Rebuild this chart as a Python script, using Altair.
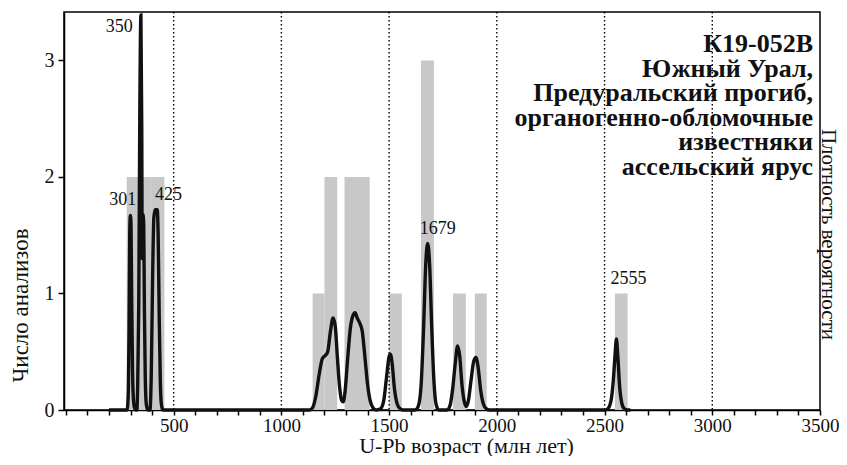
import altair as alt
import pandas as pd

# ---- data ----
# histogram bins (Ma) and counts
bin_start = [282, 340, 399, 1145, 1200, 1293, 1351, 1500, 1648, 1797, 1898, 2548]
bin_end   = [340, 399, 457, 1200, 1259, 1351, 1410, 1559, 1708, 1856, 1953, 2607]
bin_count = [2, 2, 2, 1, 2, 2, 2, 1, 3, 1, 1, 1]

# probability density curve (age Ma, density in count-axis units)
dens_age = [200, 284, 287, 290, 293, 296, 299, 302, 305, 309, 313, 318, 324,
            329, 333, 338, 343, 348, 352, 354, 357, 361, 364, 368, 373, 380,
            390, 396, 402, 408, 414, 424, 428, 433, 438, 443, 450,
            1100, 1130, 1145, 1160, 1175, 1190, 1205, 1215, 1228, 1240, 1250,
            1260, 1270, 1280, 1287, 1295, 1308, 1320, 1332, 1342, 1352, 1365,
            1375, 1388, 1400, 1412, 1425, 1440, 1460, 1475, 1488, 1500, 1506,
            1514, 1525, 1538, 1552, 1565, 1620, 1635, 1648, 1660, 1670, 1679,
            1688, 1698, 1708, 1718, 1730, 1770, 1783, 1795, 1807, 1818, 1828,
            1838, 1848, 1858, 1868, 1880, 1893, 1903, 1913, 1925, 1938, 1952,
            1965, 2500, 2515, 2530, 2540, 2548, 2555, 2562, 2570, 2580, 2592,
            2605, 2620]
dens_val = [0, 0, 0.05, 0.2, 0.7, 1.5, 1.67, 1.6, 1.0, 0.35, 0.1, 0.02, 0,
            0, 0.2, 0.9, 2.6, 3.39, 2.4, 1.3, 1.68, 1.6, 0.9, 0.3, 0.05, 0,
            0, 0.3, 1.1, 1.65, 1.72, 1.72, 1.5, 0.8, 0.25, 0.05, 0,
            0, 0, 0.02, 0.12, 0.3, 0.44, 0.47, 0.5, 0.68, 0.79, 0.72,
            0.45, 0.2, 0.08, 0.07, 0.15, 0.45, 0.7, 0.81, 0.835, 0.79, 0.74,
            0.68, 0.45, 0.22, 0.08, 0.02, 0, 0.01, 0.08, 0.28, 0.46, 0.48,
            0.4, 0.18, 0.05, 0.01, 0, 0, 0.03, 0.2, 0.7, 1.25, 1.43,
            1.25, 0.7, 0.25, 0.05, 0, 0, 0.04, 0.18, 0.4, 0.55, 0.46,
            0.22, 0.08, 0.03, 0.08, 0.25, 0.42, 0.45, 0.37, 0.17, 0.05, 0.01,
            0, 0, 0.01, 0.08, 0.24, 0.45, 0.61, 0.45, 0.2, 0.06, 0.01,
            0, 0]

# labelled peaks
peak_labels = ["301", "350", "425", "1679", "2555"]
peak_ages = [301, 350, 425, 1679, 2555]
peak_heights = [1.67, 3.39, 1.72, 1.43, 0.61]

grid_values = [500, 1000, 1500, 2000, 2500, 3000]
x_ticks = list(range(0, 3600, 100))
y_ticks = [0, 1, 2, 3]

title_lines = ["К19-052В", "Южный Урал,", "Предуральский прогиб,",
               "органогенно-обломочные\u00a0", "известняки", "ассельский ярус"]

X_DOMAIN = [-9, 3500]
Y_DOMAIN = [0, 3.416]
SERIF = "Liberation Serif"

bins = pd.DataFrame({"start": bin_start, "end": bin_end, "count": bin_count})
dens = pd.DataFrame({"age": dens_age, "val": dens_val})
grid = pd.DataFrame({"g": grid_values})
peaks = pd.DataFrame({"label": peak_labels, "age": peak_ages, "h": peak_heights})

xscale = alt.Scale(domain=X_DOMAIN, nice=False, zero=False)
yscale = alt.Scale(domain=Y_DOMAIN, nice=False, zero=False)

x_axis = alt.Axis(
    values=x_ticks,
    labelExpr="datum.value % 500 === 0 && datum.value > 0 ? datum.label : ''",
    labelOverlap=False, labelFlush=False, format="d", labelFontSize=19,
    title="U-Pb возраст (млн лет)", titleX=402, titleY=42, titleFontSize=22,
    titleBaseline="alphabetic", titleAlign="center",
    grid=False, tickSize=5, labelPadding=1,
)

bars = alt.Chart(bins).mark_rect(color="#c8c8c8").encode(
    x=alt.X("start:Q", scale=xscale, axis=x_axis),
    x2="end:Q",
    y=alt.Y("count:Q", scale=yscale,
            axis=alt.Axis(values=y_ticks, title="Число анализов", titleAngle=270,
                          titleX=-44, titleY=293, titleAlign="center",
                          titleBaseline="middle", titleFontSize=23, grid=False,
                          tickSize=6, labelPadding=4)),
    y2=alt.datum(0),
)

rules = alt.Chart(grid).mark_rule(color="black", strokeDash=[1.5, 2.5], strokeWidth=1.4).encode(
    x=alt.X("g:Q", scale=xscale, axis=x_axis)
)

line = alt.Chart(dens).mark_line(color="#111111", strokeWidth=3.4, interpolate="monotone").encode(
    x=alt.X("age:Q", scale=xscale, axis=x_axis),
    y=alt.Y("val:Q", scale=yscale,
            axis=alt.Axis(orient="right", labels=False, ticks=False, domain=False,
                          grid=False, title="Плотность вероятности", titleAngle=90,
                          titleX=7, titleY=222, titleAlign="center",
                          titleBaseline="middle", titleFontSize=21)),
)

offsets = {"301": (-8, -15), "350": (-22, 12), "425": (11, -15),
           "1679": (10, -14), "2555": (12, -60)}
label_layers = []
for lab in peak_labels:
    dx, dy = offsets[lab]
    label_layers.append(
        alt.Chart(peaks).transform_filter(alt.datum.label == lab)
        .mark_text(font=SERIF, fontSize=18, dx=dx, dy=dy, align="center",
                   baseline="middle", color="#111111")
        .encode(x=alt.X("age:Q", scale=xscale, axis=x_axis),
                y=alt.Y("h:Q", scale=yscale, axis=None),
                text="label:N")
    )

title_df = pd.DataFrame({"t": ["\n".join(title_lines)]})
title_block = alt.Chart(title_df).mark_text(
    font=SERIF, fontSize=26, fontWeight="bold", align="right",
    baseline="alphabetic", lineBreak="\n", lineHeight=24.5, color="#111111"
).encode(x=alt.value(749), y=alt.value(40), text="t:N")

chart = alt.layer(bars, rules, line, *label_layers, title_block).resolve_scale(
    y="independent"
).properties(
    width=756, height=398,
    autosize=alt.AutoSizeParams(type="none"),
    padding={"left": 56, "top": 4, "right": 19, "bottom": 46},
).configure_view(
    stroke="black", strokeWidth=1.5
).configure_axis(
    labelFont=SERIF, titleFont=SERIF, labelFontSize=20, titleFontSize=21,
    titleFontWeight="normal", labelColor="#111111", titleColor="#111111",
    domainColor="black", domainWidth=1.5, tickColor="black", tickWidth=1.5,
)

chart.save("out.html", embed_options={"renderer": "svg", "actions": False})
